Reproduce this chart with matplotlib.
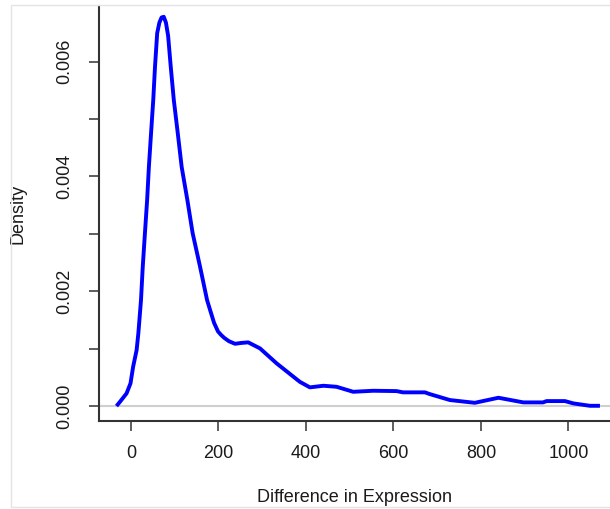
import matplotlib
matplotlib.use("Agg")
import matplotlib.pyplot as plt
from matplotlib.patches import Rectangle

# density curve (x = difference, y = density in 1e-3)
diff_x = [-33, -25, -10, -1, 5, 13, 17, 23, 27, 32, 37, 41, 46, 51, 55, 60,
          65, 70, 75, 80, 85, 91, 98, 107, 116, 129, 141, 158, 174,
          181, 190, 199, 206, 213, 224, 238, 252, 268, 295, 333, 386, 409,
          440, 470, 508, 554, 607, 622, 672, 683, 729, 786, 840, 897, 942,
          950, 992, 1011, 1049, 1072]
density = [0.0, 0.075, 0.221, 0.395, 0.685, 0.976, 1.272, 1.847, 2.427,
           3.014, 3.589, 4.164, 4.756, 5.331, 5.911, 6.498, 6.68, 6.77,
           6.782, 6.68, 6.45, 5.911, 5.331, 4.756, 4.164, 3.589, 3.014,
           2.427, 1.847, 1.672, 1.45, 1.3, 1.24, 1.19, 1.13, 1.085, 1.1,
           1.11, 1.005, 0.744, 0.423, 0.326, 0.354, 0.336, 0.249, 0.267,
           0.261, 0.239, 0.239, 0.209, 0.105, 0.057, 0.145, 0.064, 0.064,
           0.087, 0.087, 0.047, 0.005, 0.005]
density = [d / 1000 for d in density]

x_ticks = [0, 200, 400, 600, 800, 1000]
y_ticks = [0.000, 0.001, 0.002, 0.003, 0.004, 0.005, 0.006]
y_tick_labels = ["0.000", "", "0.002", "", "0.004", "", "0.006"]

plt.rcParams["font.family"] = ["Liberation Sans", "DejaVu Sans"]

fig = plt.figure(figsize=(6.10, 5.09), dpi=100)
ax = fig.add_axes([99 / 610, 1 - 421 / 509, 1 - 99 / 610, (421 - 6) / 509])

ax.axhline(0, color="#cfcfcf", linewidth=1.5, zorder=1)
ax.plot(diff_x, density, color="#0000ff", linewidth=2.8, zorder=2,
        solid_joinstyle="round", solid_capstyle="butt")

ax.set_xlim(-73, 1095)
ax.set_ylim(-0.00026, 0.00697)
ax.set_xticks(x_ticks)
ax.set_yticks(y_ticks)
ax.set_yticklabels(y_tick_labels, rotation=90, va="center")

for side in ("top", "right"):
    ax.spines[side].set_visible(False)
for side in ("left", "bottom"):
    ax.spines[side].set_linewidth(1.5)
    ax.spines[side].set_color("#333333")

ax.tick_params(axis="both", direction="out", length=7.5, width=1.1,
               color="#333333", labelsize=13, labelcolor="#1a1a1a")
ax.tick_params(axis="x", pad=10)
ax.tick_params(axis="y", pad=11)

ax.set_xlabel("Difference in Expression", fontsize=13, color="#1a1a1a")
ax.xaxis.set_label_coords(0.5, (421 - 497) / 415)
ax.xaxis.label.set_va("center")
ax.set_ylabel("Density", fontsize=13, color="#1a1a1a")
ax.yaxis.set_label_coords((18 - 99) / 511, 0.5)
ax.yaxis.label.set_va("center")

# faint frame around the whole picture
fig.add_artist(Rectangle((11 / 610, 2 / 509), 1.2, 1 - 7 / 509,
                         transform=fig.transFigure, fill=False,
                         edgecolor="#e4e4e4", linewidth=1))

fig.savefig("out.png", dpi=100)
